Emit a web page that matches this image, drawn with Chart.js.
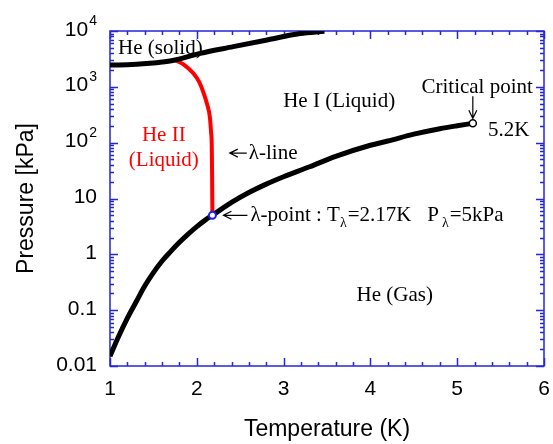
<!DOCTYPE html>
<html>
<head>
<meta charset="utf-8">
<script src="https://cdn.jsdelivr.net/npm/chart.js@4/dist/chart.umd.min.js"></script>
<style>
  html, body { margin: 0; padding: 0; background: #fff; }
  #wrap { width: 553px; height: 444px; }
</style>
</head>
<body>
<div id="wrap"><canvas id="phase"></canvas></div>
<script>
// Helium phase diagram
const vaporT = [1.0, 1.1, 1.2, 1.3, 1.4, 1.5, 1.6, 1.7, 1.8, 1.9, 2.0, 2.1, 2.18, 2.4, 2.6, 2.8, 3.0, 3.3, 3.6, 4.0, 4.2, 4.5, 4.8, 5.0, 5.18];
const vaporP = [0.015, 0.034, 0.072, 0.14, 0.27, 0.47, 0.76, 1.13, 1.64, 2.3, 3.13, 4.14, 5.0, 8.5, 12.8, 18.1, 24.5, 37, 57, 90, 107, 142, 178, 201, 222];

const meltT = [1.0, 1.2, 1.46, 1.6, 1.75, 2.04, 2.42, 2.81, 3.19, 3.47];
const meltP = [2460, 2480, 2640, 2780, 3020, 3980, 5240, 6920, 9040, 9900];

const lambdaT = [1.75, 1.85, 1.96, 2.03, 2.08, 2.12, 2.15, 2.165, 2.172, 2.176, 2.18];
const lambdaP = [3020, 2500, 1750, 1200, 766, 480, 291, 150, 97, 30, 5];

const lambdaPoint = {T: 2.18, P: 5};
const criticalPoint = {T: 5.18, P: 222};

const tempTicks = [1, 2, 3, 4, 5, 6];
const pressureTicks = [0.01, 0.1, 1, 10, 100, 1000, 10000];
const pressureLabels = ['0.01', '0.1', '1', '10', '10', '10', '10'];
const pressureSup = ['', '', '', '', '2', '3', '4'];

const AXIS_BLUE = '#2626d9';
const SERIF = '"Liberation Serif", "Times New Roman", serif';
const SANS = '"Liberation Sans", Arial, sans-serif';

const pts = (xs, ys) => xs.map((x, i) => ({x: x, y: ys[i]}));

function arrowLeft(ctx, x, y, len) {
  ctx.beginPath();
  ctx.moveTo(x, y); ctx.lineTo(x + len, y);
  ctx.moveTo(x + 8, y - 4); ctx.lineTo(x, y); ctx.lineTo(x + 8, y + 4);
  ctx.stroke();
}

const frame = {
  id: 'frame',
  beforeDatasetsDraw(chart) {
    const {ctx, chartArea: a, scales: {x, y}} = chart;
    ctx.save();
    ctx.strokeStyle = AXIS_BLUE;
    ctx.lineWidth = 1.5;
    ctx.strokeRect(a.left, a.top, a.right - a.left, a.bottom - a.top);
    ctx.beginPath();
    // x ticks, inside, bottom and top
    for (let v = 1; v <= 6.001; v += 0.2) {
      const px = Math.round(x.getPixelForValue(v)) + 0.5;
      const major = Math.abs(v - Math.round(v)) < 1e-6;
      const len = major ? 8 : 4;
      ctx.moveTo(px, a.bottom); ctx.lineTo(px, a.bottom - len);
      ctx.moveTo(px, a.top); ctx.lineTo(px, a.top + len);
    }
    // y ticks, log decades + minors
    for (let d = -2; d <= 4; d++) {
      for (let m = 1; m <= 9; m++) {
        const v = m * Math.pow(10, d);
        if (v > 10000) break;
        const py = Math.round(y.getPixelForValue(v)) + 0.5;
        const len = m === 1 ? 8 : 4;
        ctx.moveTo(a.left, py); ctx.lineTo(a.left + len, py);
        ctx.moveTo(a.right, py); ctx.lineTo(a.right - len, py);
      }
    }
    ctx.stroke();

    // y tick labels with superscripts
    ctx.fillStyle = '#000';
    ctx.textAlign = 'right';
    ctx.textBaseline = 'alphabetic';
    pressureTicks.forEach((v, i) => {
      const py = y.getPixelForValue(v);
      let rx = a.left - 13;
      if (pressureSup[i]) {
        ctx.font = '14px ' + SANS;
        ctx.fillText(pressureSup[i], rx, py - 6);
        rx -= ctx.measureText(pressureSup[i]).width + 1;
      }
      ctx.font = '21px ' + SANS;
      ctx.fillText(pressureLabels[i], rx, py + 4.5);
    });
    ctx.restore();
  },
  afterDatasetsDraw(chart) {
    const {ctx, scales: {x, y}} = chart;
    const X = v => x.getPixelForValue(v);
    const Y = v => y.getPixelForValue(v);
    ctx.save();
    ctx.font = '21px ' + SERIF;
    ctx.textBaseline = 'middle';
    ctx.fillStyle = '#000';
    ctx.strokeStyle = '#000';
    ctx.lineWidth = 1.2;

    ctx.textAlign = 'center';
    ctx.fillText('He (solid)', X(1.58), Y(4950));
    ctx.fillText('He I (Liquid)', X(3.64), Y(556));
    ctx.fillText('He (Gas)', X(4.28), Y(0.186));
    ctx.fillText('Critical point', X(5.23), Y(990));

    ctx.fillStyle = '#ff0000';
    ctx.fillText('He II', X(1.62), Y(137));
    ctx.fillText('(Liquid)', X(1.62), Y(48.7));
    ctx.fillStyle = '#000';

    // critical point arrow pointing down
    const cx = X(criticalPoint.T), cy = Y(criticalPoint.P);
    ctx.beginPath();
    ctx.moveTo(cx, cy - 27); ctx.lineTo(cx, cy - 5);
    ctx.moveTo(cx - 4, cy - 13); ctx.lineTo(cx, cy - 5); ctx.lineTo(cx + 4, cy - 13);
    ctx.stroke();

    ctx.textAlign = 'left';
    ctx.fillText('5.2K', X(5.355), Y(168));

    // lambda-line label
    const lx = X(2.38), ly = Y(65);
    arrowLeft(ctx, lx, ly, 17);
    ctx.fillText('\u03bb-line', lx + 19, ly);

    // lambda-point label, subscripts drawn smaller and lower
    const px = X(lambdaPoint.T) + 11, py = Y(lambdaPoint.P);
    arrowLeft(ctx, px, py, 24);
    let tx = px + 27;
    const parts = [['\u03bb-point : T', 0, 0], ['\u03bb', 1, 0], ['=2.17K   P', 0, 0], ['\u03bb', 1, 3], ['=5kPa', 0, 0]];
    parts.forEach(([s, sub, gap]) => {
      tx += gap;
      ctx.font = (sub ? '14px ' : '21px ') + SERIF;
      ctx.fillText(s, tx, sub ? py + 8 : py);
      tx += ctx.measureText(s).width + (sub ? 1 : 0);
    });
    ctx.restore();
  }
};

new Chart(document.getElementById('phase'), {
  type: 'scatter',
  data: {
    datasets: [
      {data: [lambdaPoint].map(p => ({x: p.T, y: p.P})), pointRadius: 3.5, pointBorderWidth: 2,
       pointBackgroundColor: '#fff', pointBorderColor: '#1a1aff', showLine: false},
      {data: [criticalPoint].map(p => ({x: p.T, y: p.P})), pointRadius: 3.5, pointBorderWidth: 1.5,
       pointBackgroundColor: '#fff', pointBorderColor: '#000', showLine: false},
      {data: pts(vaporT, vaporP), showLine: true, borderColor: '#000', borderWidth: 5,
       pointRadius: 0, cubicInterpolationMode: 'monotone'},
      {data: pts(meltT, meltP), showLine: true, borderColor: '#000', borderWidth: 5,
       pointRadius: 0, cubicInterpolationMode: 'monotone'},
      {data: pts(lambdaT, lambdaP), showLine: true, borderColor: '#ff0000', borderWidth: 4,
       pointRadius: 0, cubicInterpolationMode: 'monotone'}
    ]
  },
  options: {
    responsive: true,
    maintainAspectRatio: false,
    animation: false,
    events: [],
    layout: {padding: {top: 31, right: 9, left: 0, bottom: 0}},
    plugins: {legend: {display: false}, tooltip: {enabled: false}},
    scales: {
      x: {
        type: 'linear', min: 1, max: 6,
        afterBuildTicks: s => { s.ticks = tempTicks.map(v => ({value: v})); },
        grid: {display: false, drawTicks: false},
        border: {display: false},
        ticks: {color: '#000', font: {family: SANS, size: 21}, padding: 11, maxRotation: 0},
        title: {display: true, text: 'Temperature (K)', color: '#000',
                font: {family: SANS, size: 23}, padding: {top: 0, bottom: 1}},
        afterFit: s => { s.height = 78; s.paddingLeft = 0; s.paddingRight = 0; }
      },
      y: {
        type: 'logarithmic', min: 0.01, max: 10000,
        grid: {display: false, drawTicks: false},
        border: {display: false},
        ticks: {display: false},
        title: {display: true, text: 'Pressure [kPa]', color: '#000',
                font: {family: SANS, size: 23}, padding: {top: 13, bottom: 0}},
        afterFit: s => { s.width = 110; s.paddingTop = 0; s.paddingBottom = 0; }
      }
    }
  },
  plugins: [frame]
});
</script>
</body>
</html>
